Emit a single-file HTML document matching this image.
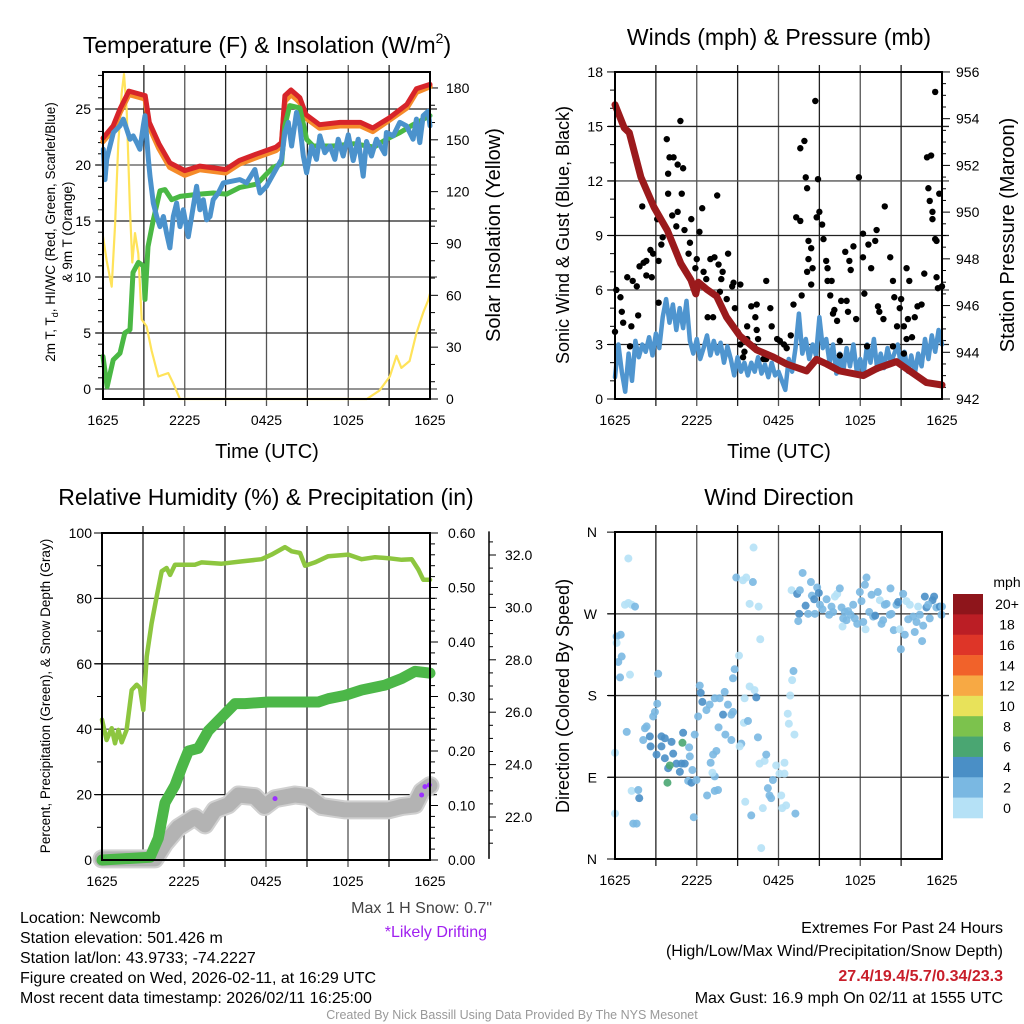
<!DOCTYPE html>
<html><head><meta charset="utf-8">
<style>
html,body{margin:0;padding:0;background:#fff;}
svg{display:block;font-family:"Liberation Sans",Arial,sans-serif;}
</style></head>
<body>
<svg id="fig" width="1024" height="1024" viewBox="0 0 1024 1024" xmlns="http://www.w3.org/2000/svg">
<rect width="1024" height="1024" fill="#fff"/>
<!-- Titles -->
<text x="267" y="53" font-size="23" text-anchor="middle">Temperature (F) &amp; Insolation (W/m<tspan font-size="14" dy="-10">2</tspan><tspan dy="10">)</tspan></text>
<text x="779" y="45" font-size="23" text-anchor="middle">Winds (mph) &amp; Pressure (mb)</text>
<text x="266" y="505" font-size="23" text-anchor="middle">Relative Humidity (%) &amp; Precipitation (in)</text>
<text x="779" y="505" font-size="23" text-anchor="middle">Wind Direction</text>
<!-- Axis titles -->
<text x="267" y="458" font-size="20" text-anchor="middle">Time (UTC)</text>
<text x="779" y="458" font-size="20" text-anchor="middle">Time (UTC)</text>
<text transform="translate(55,232) rotate(-90)" font-size="13.5" text-anchor="middle"><tspan x="0" dy="0">2m T, T<tspan font-size="9" dy="3">d</tspan><tspan dy="-3">, HI/WC (Red, Green, Scarlet/Blue)</tspan></tspan><tspan x="0" dy="17">&amp; 9m T (Orange)</tspan></text>
<text transform="translate(500,235) rotate(-90)" font-size="20" text-anchor="middle">Solar Insolation (Yellow)</text>
<text transform="translate(569,235) rotate(-90)" font-size="18" text-anchor="middle">Sonic Wind &amp; Gust (Blue, Black)</text>
<text transform="translate(1014,235) rotate(-90)" font-size="20" text-anchor="middle">Station Pressure (Maroon)</text>
<text transform="translate(50,696) rotate(-90)" font-size="13.5" text-anchor="middle">Percent, Precipitation (Green), &amp; Snow Depth (Gray)</text>
<text transform="translate(569,696) rotate(-90)" font-size="18" text-anchor="middle">Direction (Colored By Speed)</text>
<!-- bottom text -->
<g font-size="16">
<text x="20" y="923">Location: Newcomb</text>
<text x="20" y="943">Station elevation: 501.426 m</text>
<text x="20" y="963">Station lat/lon: 43.9733; -74.2227</text>
<text x="20" y="983">Figure created on Wed, 2026-02-11, at 16:29 UTC</text>
<text x="20" y="1003">Most recent data timestamp: 2026/02/11 16:25:00</text>
</g>
<text x="492" y="913" font-size="16" fill="#444" text-anchor="end">Max 1 H Snow: 0.7"</text>
<text x="487" y="937" font-size="16" fill="#a020f0" text-anchor="end">*Likely Drifting</text>
<g font-size="16" text-anchor="end">
<text x="1003" y="933">Extremes For Past 24 Hours</text>
<text x="1003" y="956">(High/Low/Max Wind/Precipitation/Snow Depth)</text>
<text x="1003" y="981" fill="#c81e2a" font-weight="bold">27.4/19.4/5.7/0.34/23.3</text>
<text x="1003" y="1003">Max Gust: 16.9 mph On 02/11 at 1555 UTC</text>
</g>
<text x="512" y="1019" font-size="12.5" fill="#999" text-anchor="middle">Created By Nick Bassill Using Data Provided By The NYS Mesonet</text>
</svg>
<script>
// ---------- DATA ----------
const timeLabels = ["1625","2225","0425","1025","1625"];
// Panel 1
const tempT = [0,0.75,1.25,1.9,3.1,3.4,4.1,4.9,6,7.1,9,10,11.3,12.7,13.1,13.35,13.8,14.45,14.9,15.9,17.4,18.9,19.8,21,22.3,23,24];
const tempVals = [22.4,23.5,25,26.6,26.2,23.8,21.9,20.2,19.5,19.9,19.6,20.4,21,21.6,22,26.2,26.7,26,24.5,23.6,23.8,23.8,23.3,24.2,25.4,26.8,27.2];
const temp9mVals = [22.1,23.2,24.7,26.3,25.9,23.4,21.5,19.8,19.1,19.6,19.3,20.1,20.7,21.3,21.7,25.7,26.3,25.6,24.2,23.3,23.5,23.5,23.0,24.0,25.1,26.5,27.0];
const dewT = [0,0.3,0.75,1.25,1.6,1.98,2.2,2.6,2.96,3.08,3.3,3.69,4.18,4.55,5.04,5.65,7.1,8.1,9.07,10.05,11.3,12.0,12.5,13.1,13.35,13.7,14.45,14.94,15.43,16.9,18.4,19.9,20.8,21.8,22.76,24];
const dewVals = [2.9,0.2,2.6,3.2,5,5.3,10.4,11.3,11,8,12.7,15.1,17.7,17.8,16.9,17.2,17.4,17.5,17.4,18,18.3,19.2,19.8,20.1,23.5,25.3,25.1,22.3,21.7,21.7,21.9,21.6,22.3,22.9,23.6,24.4];
const wcT = [0.02,0.15,0.27,0.39,0.76,1.25,1.49,1.74,1.98,2.22,2.47,2.71,2.96,3.08,3.33,3.45,3.69,3.94,4.18,4.43,4.67,4.91,5.16,5.4,5.65,5.89,6.26,6.63,6.87,7.11,7.36,7.6,7.85,8.09,8.46,8.83,10.05,10.54,11.15,11.52,12.0,13.1,13.35,13.6,13.84,14.2,14.45,14.7,14.94,15.3,15.67,15.92,16.28,16.65,17.02,17.26,17.63,18.0,18.36,18.73,19.1,19.34,19.71,20.07,20.68,20.8,21.3,21.78,22.27,22.76,23.0,23.25,23.5,23.86,24];
const wcVals = [21.4,18.7,20.5,21.1,22.9,23.5,24.1,23.2,22.3,22.6,22.0,21.4,23.5,24.4,20.5,19.0,16.6,15.4,14.5,15.4,13.9,12.6,15.4,16.6,14.5,16.0,13.6,16.3,18.1,16.0,16.9,15.1,15.4,16.9,17.5,18.4,18.7,18.4,19.6,17.5,18.1,20.5,22.9,23.8,21.7,24.7,23.5,20.8,19.3,21.7,20.5,22.6,21.1,21.7,20.5,22.3,20.8,22.7,20.4,22.3,19.0,22.1,20.8,22.3,21.0,22.9,22.6,23.8,23.5,22.3,24.1,22.0,24.4,24.8,23.5];
const solarT = [0,0.27,0.64,0.88,1.12,1.37,1.54,1.74,1.98,2.15,2.35,2.59,2.84,3.2,3.57,4.06,4.79,5.16,5.65,19.36,20.3,21.05,21.54,21.9,22.5,23.0,23.5,23.86,24];
const solarVals = [94,80,65,100,148,177,188,167,109,79,96,84,46,42,28,13,15,9,0,0,5,13,25,18,22,38,50,57,61];
// Panel 2
const windT = [];
for (let i=0;i<=96;i++) windT.push(i*0.25);
const windVals = [1.2,3.0,1.5,0.4,2.5,1.0,3.2,2.3,3.0,2.6,3.4,2.4,3.6,2.8,4.5,5.5,4.2,5.2,3.8,5.0,3.9,5.4,3.2,2.5,3.3,2.2,2.8,3.5,2.4,3.2,2.5,3.1,2.0,2.9,2.2,1.3,2.3,1.5,2.0,1.3,2.0,1.5,2.3,1.4,1.9,1.2,2.0,1.3,1.5,1.0,0.5,2.2,1.5,2.8,4.7,2.5,3.3,2.2,3.0,2.4,4.5,2.8,3.3,2.0,3.0,1.4,2.5,1.5,2.8,1.8,3.0,1.5,2.2,1.4,3.0,2.0,3.3,1.6,2.5,1.7,2.8,2.0,2.5,3.0,1.8,2.6,1.5,2.4,1.4,2.5,1.8,3.3,2.2,3.5,2.6,3.8,3.0];
const gustT = [0,0.1,0.4,0.5,0.6,0.9,1.3,1.6,1.7,1.2,1.1,1.8,2.0,2.1,2.3,2.3,2.6,2.8,2.7,3.1,3.2,3.4,3.5,3.8,3.9,4.0,4.3,4.6,5.0,3.9,4.9,4.2,4.6,4.5,5.1,5.4,5.5,5.6,4.8,6.0,6.2,6.4,5.9,6.5,6.7,7.0,7.3,7.5,7.6,7.9,7.8,7.7,8.3,8.2,8.6,8.7,9.2,8.8,9.0,6.8,7.2,3.2,9.2,9.4,9.7,10.0,10.4,10.3,10.2,9.7,10.5,10.9,11.1,11.4,11.5,11.9,12.1,12.4,12.6,12.9,13.1,13.3,13.6,13.7,13.6,13.9,14.0,14.1,14.2,14.4,14.2,14.1,14.4,14.5,14.7,14.8,14.9,15.0,15.2,15.3,15.5,15.6,15.8,15.6,15.9,16.0,16.1,16.3,16.5,16.6,16.9,17.0,17.1,17.2,17.3,17.5,17.7,17.9,18.2,18.3,18.2,18.6,18.8,19.1,19.2,19.3,19.4,19.7,19.8,20.2,20.4,20.5,20.7,20.9,21.0,21.2,21.4,21.5,21.6,22.0,22.2,22.5,22.7,22.9,23.0,23.1,23.2,23.3,23.3,23.5,23.6,23.6,23.7,23.5,23.8,24.0,9.5,10.4,11.1,21.4,21.8,21.2,20.4,18.5,16.5];
const gustVals = [3.7,6.0,5.6,4.8,4.2,6.7,6.5,6.2,4.6,4.0,2.9,7.3,10.6,7.5,7.6,6.8,8.2,8.0,6.7,9.9,7.6,8.5,8.9,14.3,12.4,13.3,13.3,12.9,12.7,11.3,11.3,10.1,10.3,9.5,9.3,8.0,8.6,9.9,15.3,7.7,9.2,10.5,7.2,7.0,6.6,7.7,7.8,11.2,7.4,7.0,6.6,5.9,8.0,5.5,6.2,6.4,6.3,5.0,3.7,4.5,4.5,5.3,3.0,2.3,4.0,5.1,5.2,4.5,2.9,3.3,3.3,2.2,6.5,5.0,4.0,3.3,3.2,3.0,2.8,3.5,5.2,10.0,9.8,5.7,13.8,14.2,12.2,11.6,8.7,8.3,7.7,7.0,6.3,7.2,16.4,10.0,12.1,10.3,9.6,8.8,7.6,7.2,5.7,6.5,6.5,4.7,4.9,4.3,3.2,5.4,8.1,5.4,4.8,7.6,7.1,8.4,4.4,12.2,9.1,5.8,7.8,8.5,7.2,8.7,9.3,5.1,4.8,4.4,10.6,7.8,6.5,5.6,4.0,5.0,5.5,4.0,7.2,4.4,6.5,4.5,5.1,5.2,6.9,13.3,11.6,10.9,13.4,10.3,9.9,8.8,8.7,6.7,6.1,16.9,11.3,6.2,2.6,3.8,2.2,3.3,3.4,2.5,2.9,2.9,2.4];
const presT = [0,0.68,1.05,1.9,2.87,3.85,4.83,5.57,5.93,6.11,6.72,7.46,8.19,9.17,10.39,11.61,12.59,14.06,14.79,15.53,16.5,18.22,19.2,20.66,21.64,22.86,24];
const presVals = [954.6,953.6,953.4,951.5,950.2,949.2,947.8,947.1,946.5,947.0,946.7,946.4,945.5,944.7,944.1,943.8,943.5,943.2,943.7,943.5,943.2,943.0,943.3,943.6,943.2,942.7,942.6];
// Panel 3
const rhT = [0,0.34,0.71,0.95,1.2,1.44,1.8,2.17,2.54,2.78,3.02,3.27,3.63,4.0,4.37,4.73,4.98,5.34,5.61,6.8,7.29,8.76,10.22,11.68,12.41,13.39,13.88,14.49,14.85,15.58,16.56,18.02,19.0,19.98,20.95,21.93,22.66,23.15,23.51,24];
const rhVals = [42.9,36.7,40.3,35.7,39.8,36.0,39.8,52,53.6,52.6,45.9,62.2,72.4,80.6,88.3,89.3,87.2,90.3,90.3,90.3,91,90.6,91.3,92,93.4,95.7,94.4,93.9,90,91,92.9,93.4,92,92.6,92.3,91.8,92,88.8,85.7,85.7];
const precipT = [0,3.51,4.12,4.61,5.34,5.83,6.32,7.05,7.78,8.76,9.73,10.46,12.17,15.83,16.56,17.78,19.0,20.71,21.93,22.9,24];
const precipVals = [0,0.005,0.04,0.105,0.137,0.17,0.2,0.205,0.237,0.262,0.287,0.287,0.29,0.29,0.296,0.302,0.312,0.321,0.333,0.346,0.343];
const snowT = [0,3.88,4.61,5.59,6.8,7.54,8.27,9.24,9.98,11.17,11.9,12.66,14.12,15.1,16.07,17.78,20.95,21.93,22.9,23.39,24];
const snowVals = [20.4,20.4,21.0,21.6,22.0,21.7,22.27,22.46,22.84,22.78,22.4,22.7,22.84,22.78,22.4,22.27,22.27,22.4,22.46,22.97,23.2];
const driftT = [12.66,23.39,23.63,23.95];
const driftVals = [22.7,22.84,23.16,23.22];
// Panel 4
const dirT = [0.98,0.73,0.98,1.22,1.47,0.12,0.42,0.12,0.49,0.24,0.37,1.1,0,0,0.86,1.22,1.71,1.78,1.34,1.59,2.07,2.2,2.32,2.56,2.61,2.8,2.93,3.1,3.17,3.05,3.41,3.41,3.66,3.66,3.9,4.15,4.27,4.51,4.76,4.88,5.0,4.95,4.02,3.85,5.12,5.44,5.49,5.68,5.37,5.61,5.98,5.78,5.85,6.1,6.22,6.29,6.41,6.71,6.95,7.32,7.68,7.93,8.05,8.29,8.54,8.66,8.66,8.78,9.1,7.6,8.1,8.54,9.27,9.15,7.44,7.2,7.02,7.32,7.15,6.76,7.32,7.56,9.46,9.76,9.51,9.88,10.24,10.37,10.49,10.61,10.98,11.1,11.59,11.22,11.34,11.46,11.83,12.07,12.44,12.44,12.2,12.27,12.56,13.24,10.85,10.0,9.56,10.73,12.68,12.76,13.17,12.86,13.0,13.1,10.66,10.17,8.9,9.39,9.63,10.12,9.88,10.54,12.96,13.37,13.57,13.77,13.52,13.45,13.99,14.18,14.38,14.45,14.62,14.67,14.84,14.96,15.04,15.23,15.53,15.72,15.89,16.01,16.14,16.31,16.5,16.63,16.75,16.7,16.99,17.11,17.29,17.48,17.6,17.78,17.97,18.09,18.22,18.34,18.46,18.39,18.66,18.83,18.95,19.1,19.29,19.44,19.56,19.68,19.8,19.93,20.22,20.29,20.46,20.66,20.78,20.98,20.9,21.15,21.27,21.39,21.52,21.64,21.88,22.0,22.13,22.37,22.54,22.62,22.74,22.86,23.1,23.3,23.42,23.59,23.84,23.96,24.0,22.25,22.98,20.17,16.87];
const dirVals = [331,280,282,280,278,245,247,238,223,217,200,203,117,50,140,75,76,67,39,39,131,144,146,135,124,157,162,171,204,115,135,124,133,111,100,129,116,105,96,105,139,128,103,84,105,123,113,98,86,84,87,46,137,157,191,183,173,164,170,177,177,159,184,170,159,162,199,209,224,145,137,131,127,124,119,115,106,91,95,70,75,76,150,152,177,190,186,178,134,105,108,115,87,78,70,67,103,94,94,106,70,56,59,50,56,48,63,12,160,149,137,180,197,207,242,343,310,307,310,305,281,278,296,292,296,315,270,262,279,270,305,290,286,270,299,293,280,275,286,269,278,272,289,292,298,277,265,256,263,273,269,280,265,259,294,284,261,302,310,253,272,291,267,268,294,285,259,263,280,281,298,270,252,280,283,231,253,292,247,284,264,280,267,250,261,269,240,257,289,277,265,285,289,277,278,269,278,278,280,269,272];
const dirSpeed = [1,1,1,1,3,3,3,1,3,3,3,1,1,1,3,1,3,5,3,3,3,3,3,5,5,3,3,3,3,5,5,5,5,5,5,5,5,5,5,5,5,7,7,7,5,3,3,3,3,5,3,3,3,3,3,5,5,3,3,3,3,5,3,3,3,3,3,3,1,3,3,3,3,1,3,3,3,3,1,3,3,3,1,3,1,1,1,5,3,1,1,3,3,3,3,3,1,1,1,1,1,1,1,3,1,3,1,1,1,1,1,1,1,3,1,1,3,1,1,3,1,1,1,5,3,3,5,3,5,3,3,3,5,3,3,5,3,3,3,3,3,3,1,1,3,3,3,1,3,3,3,3,3,3,3,3,3,3,3,1,3,3,3,5,3,1,3,3,3,3,3,3,3,3,5,3,1,3,3,1,3,1,3,3,3,3,3,3,5,5,3,5,5,3,5,3,3,1,3];
const cbLabels = ["20+","18","16","14","12","10","8","6","4","2","0"];
const cbColors = ["#8e151b","#bb1e25","#de3528","#f1622a","#f7a944","#e8e25a","#7cc24d","#4aa672","#4a8fc6","#7ab8e2","#b5e1f6"];

// ---------- DRAW ----------
const NS = "http://www.w3.org/2000/svg";
const svg = document.getElementById('fig');
function mk(tag, parent){ const e=document.createElementNS(NS,tag); parent.appendChild(e); return e; }
function pathFrom(xs, ys, sx, sy){ let d=''; for(let i=0;i<xs.length;i++){ d += (i?'L':'M') + sx(xs[i]).toFixed(1) + ',' + sy(ys[i]).toFixed(1); } return d; }

function panel(px0, px1, py0, py1, name){
  const g = mk('g', svg);
  
  
  const sx = t => px0 + t*(px1-px0)/24;
  for (let h=3; h<24; h+=3){
    const l = mk('line', g);
    
    
    l.setAttribute('x1', sx(h)); l.setAttribute('x2', sx(h)); l.setAttribute('y1', py0-7); l.setAttribute('y2', py1+7);
    l.setAttribute('stroke', (h%6===0)?'#555':'#222'); l.setAttribute('stroke-width', 1.3);
  }
  for (let i=0;i<timeLabels.length;i++){
    const tx = mk('text', g);
    
    
    tx.setAttribute('x', sx(i*6)); tx.setAttribute('y', py1+26); tx.setAttribute('font-size', 14); tx.setAttribute('text-anchor','middle');
    tx.textContent = timeLabels[i];
  }
  return {g, sx};
}
function hgrid(g, px0, px1, y, color){
  const l = mk('line', g);
  
  
  l.setAttribute('x1', px0-7); l.setAttribute('x2', px1+7); l.setAttribute('y1', y); l.setAttribute('y2', y);
  l.setAttribute('stroke', color||'#333'); l.setAttribute('stroke-width', 1.3);
}
function tickLabel(g, x, y, txt, anchor){
  const t = mk('text', g);
  
  
  t.setAttribute('x', x); t.setAttribute('y', y+5); t.setAttribute('font-size', 14); t.setAttribute('text-anchor', anchor);
  t.textContent = txt;
}
function tick(g, x1, x2, y){
  const l = mk('line', g);
  
  
  l.setAttribute('x1', x1); l.setAttribute('x2', x2); l.setAttribute('y1', y); l.setAttribute('y2', y);
  l.setAttribute('stroke', '#000'); l.setAttribute('stroke-width', 1);
}
function border(g, x0, x1, y0, y1){
  const r = mk('rect', g);
  
  
  r.setAttribute('x', x0); r.setAttribute('y', y0); r.setAttribute('width', x1-x0); r.setAttribute('height', y1-y0);
  r.setAttribute('fill', 'none'); r.setAttribute('stroke', '#000'); r.setAttribute('stroke-width', 2);
}
function series(g, xs, ys, sx, sy, color, w, name){
  const p = mk('path', g);
  
  
  p.setAttribute('d', pathFrom(xs, ys, sx, sy));
  p.setAttribute('fill', 'none'); p.setAttribute('stroke', color); p.setAttribute('stroke-width', w);
  p.setAttribute('stroke-linejoin', 'round'); p.setAttribute('stroke-linecap', 'round');
  return p;
}

// ===== Panel 1 =====
(function(){
  const X0=103, X1=430, Y0=72, Y1=399;
  const {g, sx} = panel(X0, X1, Y0, Y1, 'temperature-panel');
  const sy = v => 389 - v*11.2;
  const sr = v => 399 - v*1.728;
  for (let v=0; v<=25; v+=5){ hgrid(g, X0, X1, sy(v), v%10===0?'#555':'#222'); tickLabel(g, X0-12, sy(v), String(v), 'end'); }
  for (let v=0; v<=28; v++){ tick(g, X0-(v%5===0?8:5), X0, sy(v)); }
  for (let v=0; v<=180; v+=10){ tick(g, X1, X1+(v%30===0?8:5), sr(v)); }
  for (let v=0; v<=180; v+=30){ tickLabel(g, X1+16, sr(v), String(v), 'start'); }
  series(g, solarT, solarVals, sx, sr, '#ffe35a', 2.2, 'insolation-line');
  series(g, tempT, temp9mVals, sx, sy, '#f58b2a', 5.5, 'temp-9m-line');
  series(g, tempT, tempVals, sx, sy, '#d7242a', 5, 'temp-2m-line');
  series(g, dewT, dewVals, sx, sy, '#4ab844', 5, 'dewpoint-line');
  series(g, wcT, wcVals, sx, sy, '#4b92cc', 5, 'windchill-line');
  border(g, X0, X1, Y0, Y1);
})();

// ===== Panel 2 =====
(function(){
  const X0=615, X1=942, Y0=72, Y1=399;
  const {g, sx} = panel(X0, X1, Y0, Y1, 'winds-panel');
  const sy = v => 399 - v*18.17;
  const sp = p => 399 - (p-942)*23.36;
  for (let v=0; v<=18; v+=3){ if(v>0&&v<18) hgrid(g, X0, X1, sy(v), v%6===0?'#555':'#222'); tickLabel(g, X0-12, sy(v), String(v), 'end'); }
  for (let v=0; v<=18; v++){ tick(g, X0-(v%3===0?8:5), X0, sy(v)); }
  for (let p=942; p<=956; p+=0.5){ tick(g, X1, X1+(p%2===0?8:4), sp(p)); }
  for (let p=942; p<=956; p+=2){ tickLabel(g, X1+14, sp(p), String(p), 'start'); }
  series(g, windT, windVals, sx, sy, '#4f95cf', 4.5, 'sonic-wind-line');
  for (let i=0;i<gustT.length;i++){
    const c = mk('circle', g);
    
    
    c.setAttribute('cx', sx(gustT[i])); c.setAttribute('cy', sy(gustVals[i])); c.setAttribute('r', 3.2); c.setAttribute('fill', '#000');
  }
  series(g, presT, presVals, sx, sp, '#9b1a1c', 7, 'pressure-line');
  border(g, X0, X1, Y0, Y1);
})();

// ===== Panel 3 =====
(function(){
  const X0=102, X1=430, Y0=533, Y1=860;
  const {g, sx} = panel(X0, X1, Y0, Y1, 'humidity-panel');
  const sy = v => 860 - v*3.27;
  const spc = p => 860 - p*545;
  const ss = s => 555 + (32-s)*26.2;
  for (let v=0; v<=100; v+=20){ if(v>0&&v<100) hgrid(g, X0, X1, sy(v), v%40===0?'#555':'#222'); tickLabel(g, X0-10, sy(v), String(v), 'end'); }
  for (let v=0; v<=100; v+=10){ tick(g, X0-(v%20===0?8:5), X0, sy(v)); }
  for (let p=0; p<=0.6001; p+=0.02){ tick(g, X1, X1+(Math.round(p*100)%10===0?8:5), spc(p)); }
  for (let i=0;i<=6;i++){ tickLabel(g, X1+18, spc(i/10), (i/10).toFixed(2), 'start'); }
  const ax = mk('line', g);
  
  
  ax.setAttribute('x1', 489); ax.setAttribute('x2', 489); ax.setAttribute('y1', ss(32.9)); ax.setAttribute('y2', ss(20.4)); ax.setAttribute('stroke','#000'); ax.setAttribute('stroke-width',1.5);
  for (let s=21; s<=32.5; s+=0.5){ tick(g, 489, 489+(s%2===0?7:4), ss(s)); }
  for (let s=22; s<=32; s+=2){ tickLabel(g, 505, ss(s), s.toFixed(1), 'start'); }
  series(g, rhT, rhVals, sx, sy, '#8dc63f', 4.5, 'humidity-line');
  series(g, snowT, snowVals, sx, ss, '#d0d0d0', 19, 'snow-depth-halo');
  series(g, snowT, snowVals, sx, ss, '#b3b3b3', 15, 'snow-depth-line');
  series(g, precipT, precipVals, sx, spc, '#4cb748', 11, 'precipitation-line');
  for (let i=0;i<driftT.length;i++){
    const c = mk('circle', g);
    
    
    c.setAttribute('cx', sx(driftT[i])); c.setAttribute('cy', ss(driftVals[i])); c.setAttribute('r', 2.5); c.setAttribute('fill', '#9b30ff');
  }
  border(g, X0, X1, Y0, Y1);
})();

// ===== Panel 4 =====
(function(){
  const X0=615, X1=942, Y0=532, Y1=859;
  const {g, sx} = panel(X0, X1, Y0, Y1, 'wind-direction-panel');
  const sy = d => 859 - d*0.908;
  const dl = ["N","E","S","W","N"];
  for (let i=0;i<=4;i++){ if(i>0&&i<4) hgrid(g, X0, X1, sy(i*90), '#333'); tickLabel(g, X0-18, sy(i*90), dl[i], 'end'); tick(g, X0-8, X0, sy(i*90)); }
  const colorFor = s => { const idx = Math.max(0, Math.min(10, Math.floor(s/2))); return cbColors[10-idx]; };
  for (let i=0;i<dirT.length;i++){
    const spd = (dirSpeed[i] === undefined) ? 3 : dirSpeed[i];
    const c = mk('circle', g);
    
    
    c.setAttribute('cx', sx(dirT[i])); c.setAttribute('cy', sy(dirVals[i])); c.setAttribute('r', 4);
    c.setAttribute('fill', colorFor(spd)); c.setAttribute('fill-opacity', 0.9);
  }
  border(g, X0, X1, Y0, Y1);
  const cb = mk('g', svg);
  
  
  const t = mk('text', cb);
  
  
  t.setAttribute('x', 1007); t.setAttribute('y', 587); t.setAttribute('font-size', 14); t.setAttribute('text-anchor','middle');
  t.textContent = 'mph';
  const bh = (818-594)/cbColors.length;
  for (let i=0;i<cbColors.length;i++){
    const r = mk('rect', cb);
    
    
    r.setAttribute('x', 953); r.setAttribute('y', 594+i*bh); r.setAttribute('width', 30); r.setAttribute('height', bh+0.3);
    r.setAttribute('fill', cbColors[i]);
    const lt = mk('text', cb);
    
    
    lt.setAttribute('x', 1007); lt.setAttribute('y', 594+i*bh+bh/2+5); lt.setAttribute('font-size', 14); lt.setAttribute('text-anchor','middle');
    lt.textContent = cbLabels[i];
  }
})();
</script>
</body></html>
